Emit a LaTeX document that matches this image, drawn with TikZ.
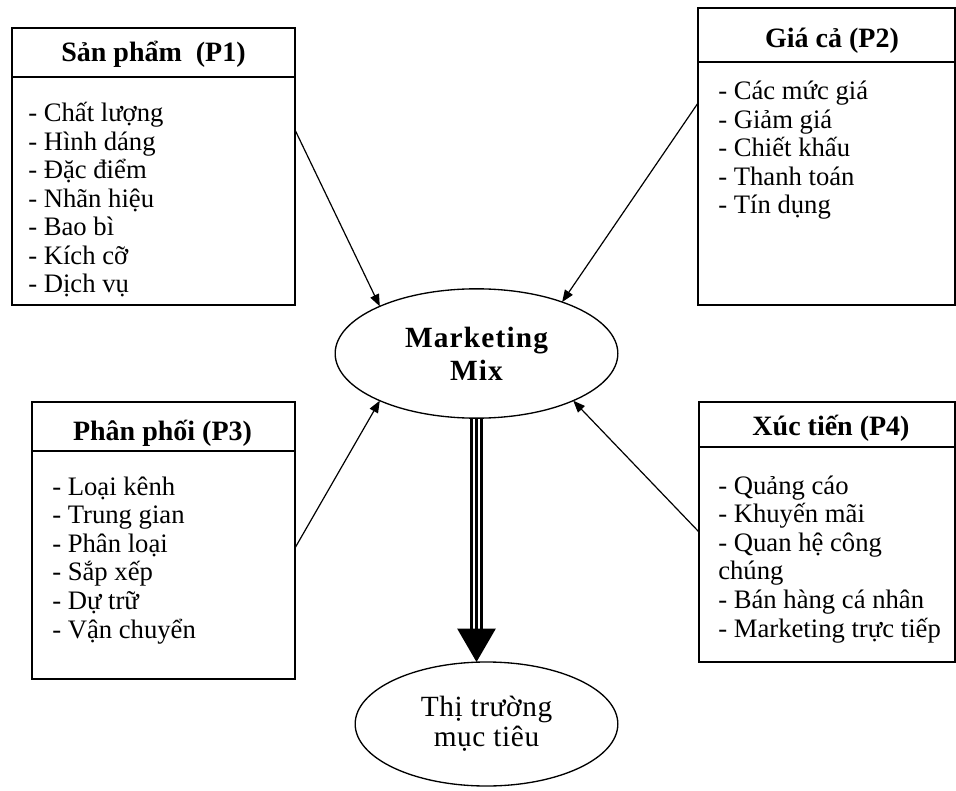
\documentclass[tikz,border=0pt]{standalone}
\usepackage{fontspec}
\setmainfont{Liberation Serif}
\usetikzlibrary{shapes.geometric,fit,calc,arrows.meta}
\tikzset{
  box/.style={draw, line width=1pt, inner sep=0pt, outer sep=0pt},
  head/.style={anchor=base, inner sep=0pt, font=\fontsize{21}{22}\selectfont\bfseries},
  items/.style={anchor=base west, inner sep=0pt, align=left, font=\fontsize{20}{21.4}\selectfont},
  oval/.style={ellipse, draw, line width=1pt, inner sep=0pt, outer sep=0pt, align=center},
  feed/.style={line width=0.9pt, -{Triangle[length=9pt,width=7pt]}},
  rail/.style={line width=1.9pt}
}
\begin{document}
\begin{tikzpicture}[x=0.75pt, y=-0.75pt]
\useasboundingbox (0,0) rectangle (956,791);
\node[box, fit={(12,28) (295,305)}] (p1) {};
\node[box, fit={(698,8) (955,305)}] (p2) {};
\node[box, fit={(32,402) (295,679)}] (p3) {};
\node[box, fit={(699,402) (955,662)}] (p4) {};
\draw[line width=1pt] (p1.west |- 0,77) -- (p1.east |- 0,77);
\draw[line width=1pt] (p2.west |- 0,62) -- (p2.east |- 0,62);
\draw[line width=1pt] (p3.west |- 0,451) -- (p3.east |- 0,451);
\draw[line width=1pt] (p4.west |- 0,447) -- (p4.east |- 0,447);
\node[head] (h1) at (153.5,62) {Sản phẩm\ \ (P1)};
\node[head] (h2) at (832,48) {Giá cả (P2)};
\node[head] (h3) at (162.5,440) {Phân phối (P3)};
\node[head] (h4) at (831,435) {Xúc tiến (P4)};
\node[items] (l1) at (28,293) {- Chất lượng\\- Hình dáng\\- Đặc điểm\\- Nhãn hiệu\\- Bao bì\\- Kích cỡ\\- Dịch vụ};
\node[items] (l2) at (718,214) {- Các mức giá\\- Giảm giá\\- Chiết khấu\\- Thanh toán\\- Tín dụng};
\node[items] (l3) at (52,638) {- Loại kênh\\- Trung gian\\- Phân loại\\- Sắp xếp\\- Dự trữ\\- Vận chuyển};
\node[items] (l4) at (718,637) {- Quảng cáo\\- Khuyến mãi\\- Quan hệ công\\chúng\\- Bán hàng cá nhân\\- Marketing trực tiếp};
\node[oval, minimum width=212pt, minimum height=97pt,
  font=\fontsize{22}{24.75}\selectfont\bfseries\addfontfeature{LetterSpace=4}] (mix) at (476.5,353.5) {Marketing\\Mix};
\node[oval, minimum width=197pt, minimum height=93pt,
  font=\fontsize{22}{22.5}\selectfont\addfontfeature{LetterSpace=2}] (tt) at (486.5,724) {Thị trường\\mục tiêu};
\draw[feed] ($(p1.north east)!0.368!(p1.south east)$) -- (mix.154.5);
\draw[feed] ($(p2.north west)!0.32!(p2.south west)$) -- (mix.31.1);
\draw[feed] ($(p3.north east)!0.527!(p3.south east)$) -- (mix.206.5);
\draw[feed] (p4.west) -- (mix.334.4);
\draw[rail, -{Triangle[length=25pt,width=28.5pt]}] (mix.south) -- (mix.south |- tt.north);
\draw[rail, shorten >=24pt, transform canvas={xshift=-3.75pt}] (mix.south) -- (mix.south |- tt.north);
\draw[rail, shorten >=24pt, transform canvas={xshift=3.75pt}] (mix.south) -- (mix.south |- tt.north);
\end{tikzpicture}
\end{document}
